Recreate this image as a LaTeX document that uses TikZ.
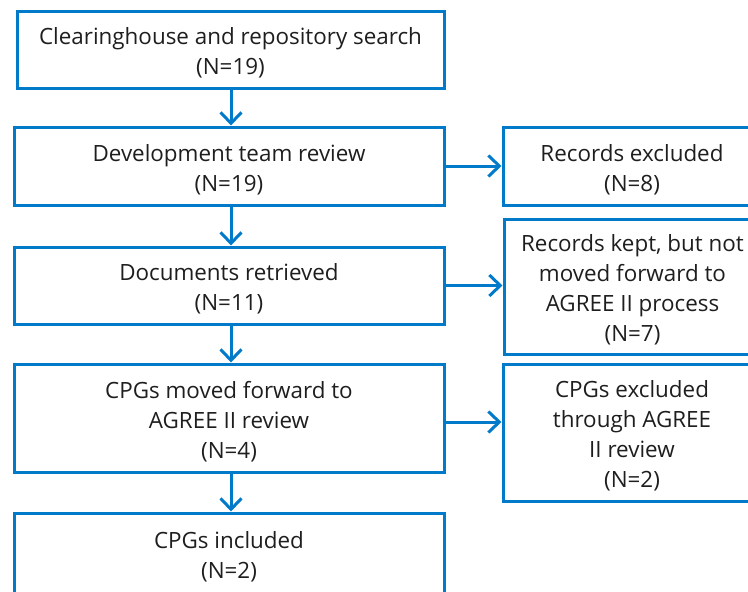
\documentclass[tikz,border=0pt]{standalone}
\usepackage{fontspec}
\setmainfont{Open Sans}
\usetikzlibrary{arrows.meta}
\definecolor{flowblue}{RGB}{0,122,201}
\definecolor{txt}{RGB}{30,30,30}
\newcommand{\toppad}{\rule{0pt}{24pt}}
\tikzset{
  box/.style={draw=flowblue, line width=3pt, rectangle, align=center, inner sep=0pt,
    text=txt, font=\fontsize{22.4pt}{30pt}\selectfont},
  arr/.style={draw=flowblue, line width=3pt, -{Straight Barb[length=11pt,width=21pt]}}
}
\begin{document}
\begin{tikzpicture}[x=1pt,y=-1pt]
\useasboundingbox (0,0) rectangle (748,592);
\clip (0,0) rectangle (748,592);
\node[box, minimum width=427pt, minimum height=77pt] (b1) at (230.5,49.5) {\toppad Clearinghouse and repository search\\(N=19)};
\node[box, minimum width=430pt, minimum height=78pt] (b2) at (229,166) {\toppad Development team review\\(N=19)};
\node[box, minimum width=430pt, minimum height=77pt] (b3) at (229,285.5) {\toppad Documents retrieved\\(N=11)};
\node[box, minimum width=430pt, minimum height=108pt] (b4) at (229,418) {\toppad CPGs moved forward to\\AGREE II review\\(N=4)};
\node[box, minimum width=430pt, minimum height=80pt] (b5) at (229,553) {\toppad CPGs included\\(N=2)};
\node[box, minimum width=258pt, minimum height=78pt] (r1) at (632,166) {\toppad Records excluded\\(N=8)};
\node[box, minimum width=257pt, minimum height=135pt] (r2) at (632.5,286.5) {\toppad Records kept, but not\\moved forward to\\AGREE II process\\(N=7)};
\node[box, minimum width=258pt, minimum height=137pt] (r3) at (632,432.5) {\toppad CPGs excluded\\through AGREE\\II review\\(N=2)};
\coordinate (a1) at (231,0);
\draw[arr] (b1.south -| a1) -- (b2.north -| a1);
\draw[arr] (b2.south -| a1) -- (b3.north -| a1);
\draw[arr] (b3.south -| a1) -- (b4.north -| a1);
\draw[arr] (b4.south -| a1) -- (b5.north -| a1);
\draw[arr] (b2.east) -- (r1.west);
\draw[arr] (b3.east) -- (b3.east -| r2.west);
\coordinate (h4) at (0,422);
\draw[arr] (b4.east |- h4) -- (r3.west |- h4);
\end{tikzpicture}
\end{document}
